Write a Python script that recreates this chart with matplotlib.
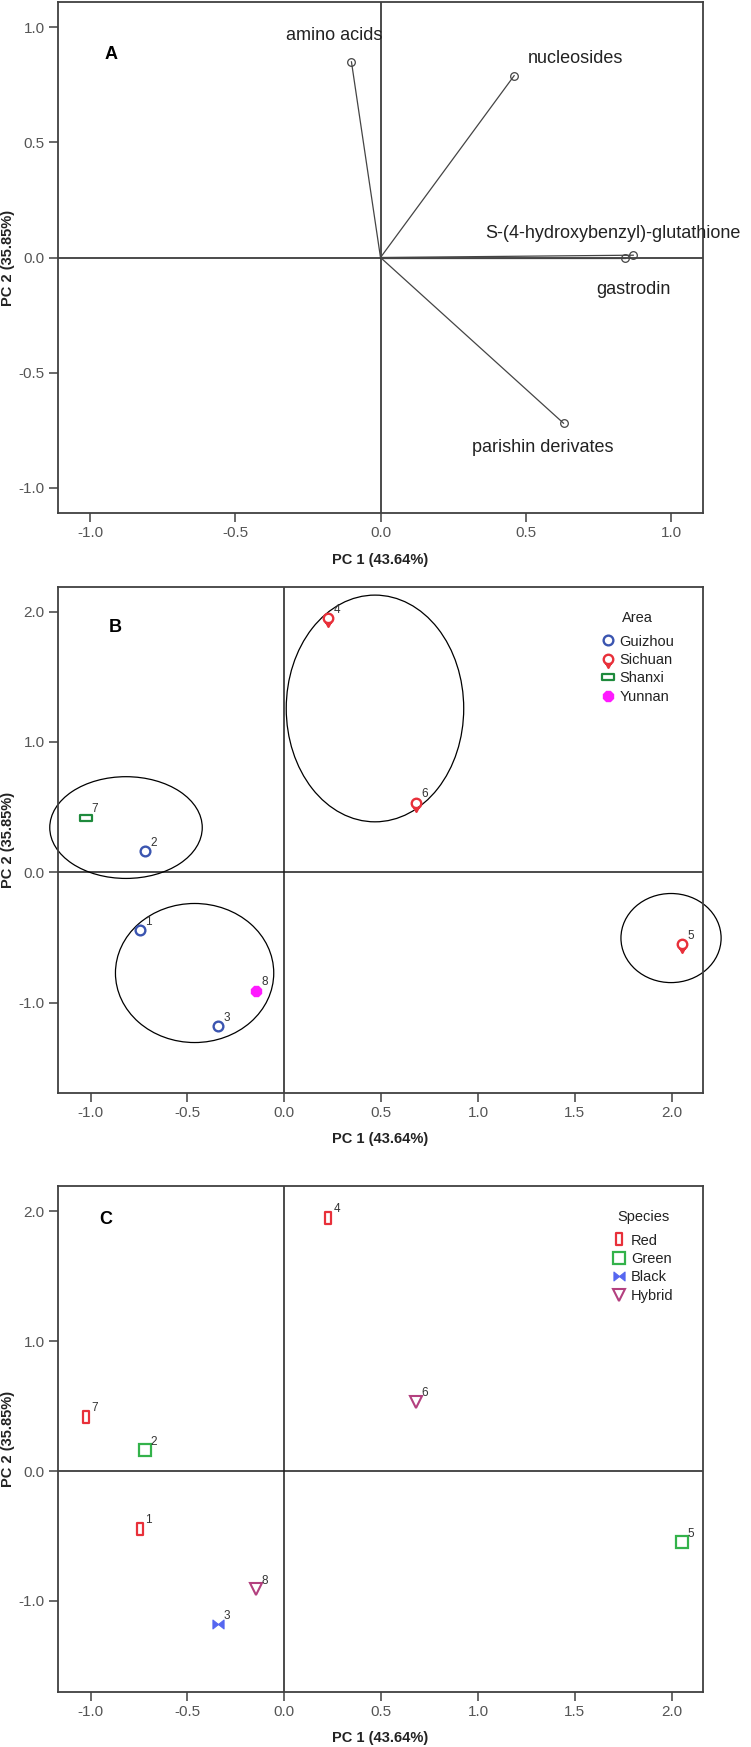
import numpy as np
import matplotlib
matplotlib.use("Agg")
import matplotlib.pyplot as plt
from matplotlib.path import Path
from matplotlib.patches import Ellipse
from matplotlib.ticker import FormatStrFormatter

plt.rcParams['font.family'] = ['Liberation Sans', 'DejaVu Sans']
plt.rcParams['axes.unicode_minus'] = False

# ---- data ----
# panel A: loadings
load_names = ["amino acids", "nucleosides", "S-(4-hydroxybenzyl)-glutathione",
              "gastrodin", "parishin derivates"]
load_pc1 = [-0.10, 0.46, 0.87, 0.84, 0.63]
load_pc2 = [0.85, 0.79, 0.01, 0.00, -0.72]
# where the names sit (data coords) and how they are aligned
label_x = [-0.16, 0.67, 0.36, 0.87, 0.56]
label_y = [0.965, 0.866, 0.105, -0.137, -0.827]
label_ha = ["center", "center", "left", "center", "center"]

# panels B and C: scores of the 8 samples
sample_id = [1, 2, 3, 4, 5, 6, 7, 8]
score_pc1 = [-0.745, -0.72, -0.344, 0.225, 2.052, 0.678, -1.022, -0.144]
score_pc2 = [-0.442, 0.163, -1.178, 1.951, -0.548, 0.535, 0.419, -0.907]
area = ["Guizhou", "Guizhou", "Guizhou", "Sichuan", "Sichuan", "Sichuan", "Shanxi", "Yunnan"]
species = ["Red", "Green", "Black", "Red", "Green", "Hybrid", "Red", "Hybrid"]

area_order = ["Guizhou", "Sichuan", "Shanxi", "Yunnan"]
species_order = ["Red", "Green", "Black", "Hybrid"]

# cluster ellipses in B: (center x, center y, width, height)
clusters = [(-0.817, 0.344, 0.787, 0.78),
            (-0.463, -0.771, 0.817, 1.066),
            (0.468, 1.257, 0.916, 1.738),
            (1.996, -0.503, 0.517, 0.683)]

# ---- marker shapes ----
circ = Path.unit_circle()
tail = Path([(-0.4, -0.95), (0.4, -0.95), (0.0, -1.75), (-0.4, -0.95)],
            [Path.MOVETO, Path.LINETO, Path.LINETO, Path.CLOSEPOLY])
pin = Path.make_compound_path(circ, tail)
hrect = Path([(-1, -0.5), (1, -0.5), (1, 0.5), (-1, 0.5), (-1, -0.5)],
             [Path.MOVETO, Path.LINETO, Path.LINETO, Path.LINETO, Path.CLOSEPOLY])
vrect = Path([(-0.5, -1), (0.5, -1), (0.5, 1), (-0.5, 1), (-0.5, -1)],
             [Path.MOVETO, Path.LINETO, Path.LINETO, Path.LINETO, Path.CLOSEPOLY])
bowtie = Path([(-1, -0.8), (0, 0), (-1, 0.8), (-1, -0.8), (1, -0.8), (0, 0), (1, 0.8), (1, -0.8)],
              [Path.MOVETO, Path.LINETO, Path.LINETO, Path.CLOSEPOLY,
               Path.MOVETO, Path.LINETO, Path.LINETO, Path.CLOSEPOLY])

area_style = {
    "Guizhou": dict(marker='o', mfc='none', mec='#3b55b0', ms=7, mew=1.7),
    "Sichuan": dict(marker=pin, mfc='none', mec='#e8303a', ms=12, mew=1.7),
    "Shanxi": dict(marker=hrect, mfc='none', mec='#1e8a3c', ms=9, mew=1.6),
    "Yunnan": dict(marker='8', mfc='#ff1aff', mec='#ff1aff', ms=7.5, mew=1),
}
species_style = {
    "Red": dict(marker=vrect, mfc='none', mec='#e8303a', ms=9, mew=1.6),
    "Green": dict(marker='s', mfc='none', mec='#33b24a', ms=8, mew=1.6),
    "Black": dict(marker=bowtie, mfc='#5566f0', mec='#5566f0', ms=8, mew=0.8),
    "Hybrid": dict(marker='v', mfc='none', mec='#b3407f', ms=8, mew=1.5),
}

W, H = 751, 1747
fig = plt.figure(figsize=(W / 100, H / 100), dpi=100)


def frame(ax, xlim, ylim, xt, yt):
    ax.set_xlim(xlim)
    ax.set_ylim(ylim)
    ax.set_xticks(xt)
    ax.set_yticks(yt)
    ax.xaxis.set_major_formatter(FormatStrFormatter('%.1f'))
    ax.yaxis.set_major_formatter(FormatStrFormatter('%.1f'))
    ax.tick_params(direction='out', length=6.5, width=1.1, color='#404040',
                   labelcolor='#555555', labelsize=11, pad=3)
    for s in ax.spines.values():
        s.set_color('#404040')
        s.set_linewidth(1.3)
    ax.axhline(0, color='#1a1a1a', lw=1.1, zorder=1)
    ax.axvline(0, color='#1a1a1a', lw=1.1, zorder=1)
    ax.set_xlabel("PC 1 (43.64%)", fontsize=10.5, fontweight='bold', color='#222222')
    ax.set_ylabel("PC 2 (35.85%)", fontsize=10.5, fontweight='bold', color='#222222')
    ax.xaxis.set_label_coords(0.5, -0.079)
    ax.yaxis.set_label_coords(-0.066, 0.5)


def legend(ax, title, anchor):
    leg = ax.legend(title=title, loc='upper left', bbox_to_anchor=anchor,
                    frameon=False, fontsize=10.5, title_fontsize=10.5, handlelength=0.9,
                    handletextpad=0.35, labelspacing=0.3, borderpad=0, borderaxespad=0)
    for t in leg.get_texts():
        t.set_color('#222222')
    leg.get_title().set_color('#222222')
    leg._legend_box.sep = 7
    return leg


# ---- A ----
axA = fig.add_axes([58 / W, (H - 513) / H, 645 / W, 511 / H])
frame(axA, (-1.11, 1.11), (-1.11, 1.11), [-1, -0.5, 0, 0.5, 1], [-1, -0.5, 0, 0.5, 1])
for i in range(len(load_names)):
    axA.plot([0, load_pc1[i]], [0, load_pc2[i]], color='#444444', lw=0.9, zorder=2)
axA.plot(load_pc1, load_pc2, ls='none', marker='o', mfc='none', mec='#444444',
         ms=5.5, mew=0.9, zorder=3)
for i in range(len(load_names)):
    axA.text(label_x[i], label_y[i], load_names[i], ha=label_ha[i], va='center',
             fontsize=13, color='#222222', clip_on=False)
axA.text(0.083, 0.898, "A", transform=axA.transAxes, fontsize=13, fontweight='bold',
         ha='center', va='center')

# ---- B ----
axB = fig.add_axes([58 / W, (H - 1092.5) / H, 645 / W, 506 / H])
frame(axB, (-1.168, 2.161), (-1.687, 2.192), np.arange(-1, 2.01, 0.5), [-1, 0, 1, 2])
for cx, cy, w, h in clusters:
    axB.add_patch(Ellipse((cx, cy), w, h, fill=False, ec='black', lw=0.9, zorder=2,
                          clip_on=False))
for a in area_order:
    idx = [i for i in range(len(area)) if area[i] == a]
    axB.plot([score_pc1[i] for i in idx], [score_pc2[i] for i in idx], ls='none',
             label=a, zorder=4, **area_style[a])
legend(axB, "Area", (0.842, 0.952))
axB.text(0.088, 0.919, "B", transform=axB.transAxes, fontsize=13, fontweight='bold',
         ha='center', va='center')

# ---- C ----
axC = fig.add_axes([58 / W, (H - 1691.5) / H, 645 / W, 506 / H])
frame(axC, (-1.168, 2.161), (-1.697, 2.199), np.arange(-1, 2.01, 0.5), [-1, 0, 1, 2])
for s in species_order:
    idx = [i for i in range(len(species)) if species[i] == s]
    axC.plot([score_pc1[i] for i in idx], [score_pc2[i] for i in idx], ls='none',
             label=s, zorder=4, **species_style[s])
legend(axC, "Species", (0.86, 0.952))
axC.text(0.074, 0.932, "C", transform=axC.transAxes, fontsize=13, fontweight='bold',
         ha='center', va='center')

# sample numbers
for ax in (axB, axC):
    for i in range(len(sample_id)):
        ax.annotate(str(sample_id[i]), (score_pc1[i], score_pc2[i]), xytext=(4, 6),
                    textcoords='offset points', fontsize=8.5, color='#333333',
                    ha='left', va='center', zorder=5)

fig.savefig("out.png", dpi=100)
